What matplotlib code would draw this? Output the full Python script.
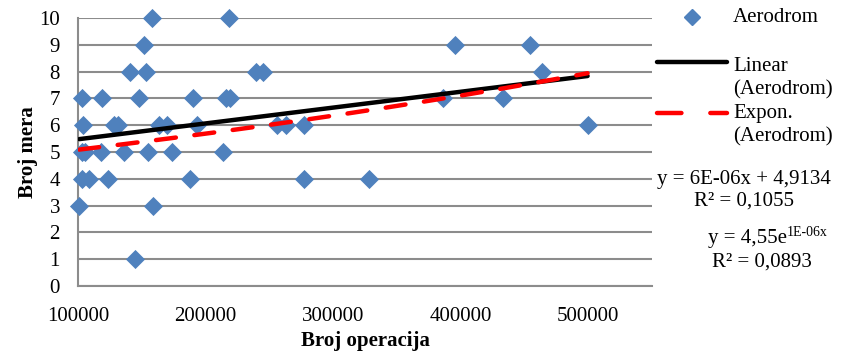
import numpy as np
import matplotlib
matplotlib.use("Agg")
import matplotlib.pyplot as plt
from matplotlib.lines import Line2D

# ---------------- data ----------------
broj_operacija = [158300, 218000, 151600, 395800, 454400,
                  141000, 153000, 239600, 245300, 463500,
                  102900, 118700, 147700, 190100, 216100, 219300, 386000, 432800,
                  104200, 128000, 131000, 163500, 170000, 193200, 256000, 263000,
                  277300, 499500,
                  103000, 105500, 117700, 136000, 155000, 173700, 214000,
                  103000, 109000, 123200, 187500, 277300, 328000,
                  101000, 158800,
                  144500]
broj_mera = [10, 10, 9, 9, 9,
             8, 8, 8, 8, 8,
             7, 7, 7, 7, 7, 7, 7, 7,
             6, 6, 6, 6, 6, 6, 6, 6,
             6, 6,
             5, 5, 5, 5, 5, 5, 5,
             4, 4, 4, 4, 4, 4,
             3, 3,
             1]

x_ticks = [100000, 200000, 300000, 400000, 500000]
y_ticks = list(range(0, 11))

lin_label = "y = 6E-06x + 4,9134\nR² = 0,1055"
exp_eq = "y = 4,55e"
exp_sup = "1E-06x"
exp_r2 = "R² = 0,0893"

# ---------------- style ----------------
plt.rcParams['font.family'] = ['Liberation Serif', 'DejaVu Serif']
FS = 15
BLUE = '#4F81BD'
GRID = '#8C8C8C'

fig = plt.figure(figsize=(8.45, 3.56), dpi=100)
ax = fig.add_axes([78 / 845, 1 - 286 / 356, (652 - 78) / 845, (286 - 18) / 356])

x = np.array(broj_operacija, dtype=float)
y = np.array(broj_mera, dtype=float)

# trend lines fitted like Excel does
b1, b0 = np.polyfit(x, y, 1)
eb, ea = np.polyfit(x, np.log(y), 1)
xs = np.linspace(x.min(), x.max(), 200)

ax.scatter(x, y, marker='D', s=95, color=BLUE, zorder=3, clip_on=False, linewidths=0)
ax.plot(xs, b0 + b1 * xs, color='black', lw=3.2, zorder=4, solid_capstyle='round')
ax.plot(xs, np.exp(ea) * np.exp(eb * xs), color='red', lw=3.2, zorder=5,
        linestyle=(0, (4.5, 4.2)), dash_capstyle='round')

ax.set_xlim(100000, 550000)
ax.set_ylim(0, 10)
ax.set_xticks(x_ticks)
ax.set_yticks(y_ticks)
ax.tick_params(length=0, labelsize=FS)
ax.tick_params(axis='y', pad=13)
ax.tick_params(axis='x', pad=15)
ax.yaxis.grid(True, color=GRID, lw=1.5)
ax.set_axisbelow(True)
for s in ['top', 'right']:
    ax.spines[s].set_visible(False)
for s in ['left', 'bottom']:
    ax.spines[s].set_color(GRID)
    ax.spines[s].set_linewidth(1.5)

ax.set_xlabel('Broj operacija', fontsize=FS, fontweight='bold', labelpad=4)
ax.set_ylabel('Broj mera', fontsize=FS, fontweight='bold', labelpad=1)

# ---------------- legend / equations (right side) ----------------
W, H = 845, 356
def fx(px):
    return px / W
def fy(py):
    return 1 - py / H

fig.add_artist(Line2D([fx(692)], [fy(17)], marker='D', markersize=8,
                      color=BLUE, transform=fig.transFigure, linestyle='none'))
fig.add_artist(Line2D([fx(657), fx(727)], [fy(62), fy(62)], color='black',
                      lw=3.2, transform=fig.transFigure, solid_capstyle='round'))
fig.add_artist(Line2D([fx(657), fx(727)], [fy(113), fy(113)], color='red',
                      lw=3.2, transform=fig.transFigure,
                      linestyle=(0, (5.5, 6.5)), dash_capstyle='round'))

fig.text(fx(733), fy(17), 'Aerodrom', fontsize=FS, va='center', ha='left')
fig.text(fx(733), fy(78), 'Linear\n(Aerodrom)', fontsize=FS, va='center', ha='left',
         linespacing=1.3)
fig.text(fx(733), fy(125.5), 'Expon.\n(Aerodrom)', fontsize=FS, va='center', ha='left',
         linespacing=1.3)
fig.text(fx(744), fy(190), lin_label, fontsize=FS, va='center', ha='center',
         linespacing=1.15)
fig.text(fx(787), fy(238), exp_eq, fontsize=FS, va='center', ha='right')
fig.text(fx(787), fy(232), exp_sup, fontsize=10, va='center', ha='left')
fig.text(fx(762), fy(262), exp_r2, fontsize=FS, va='center', ha='center')

fig.savefig('out.png', dpi=100)
